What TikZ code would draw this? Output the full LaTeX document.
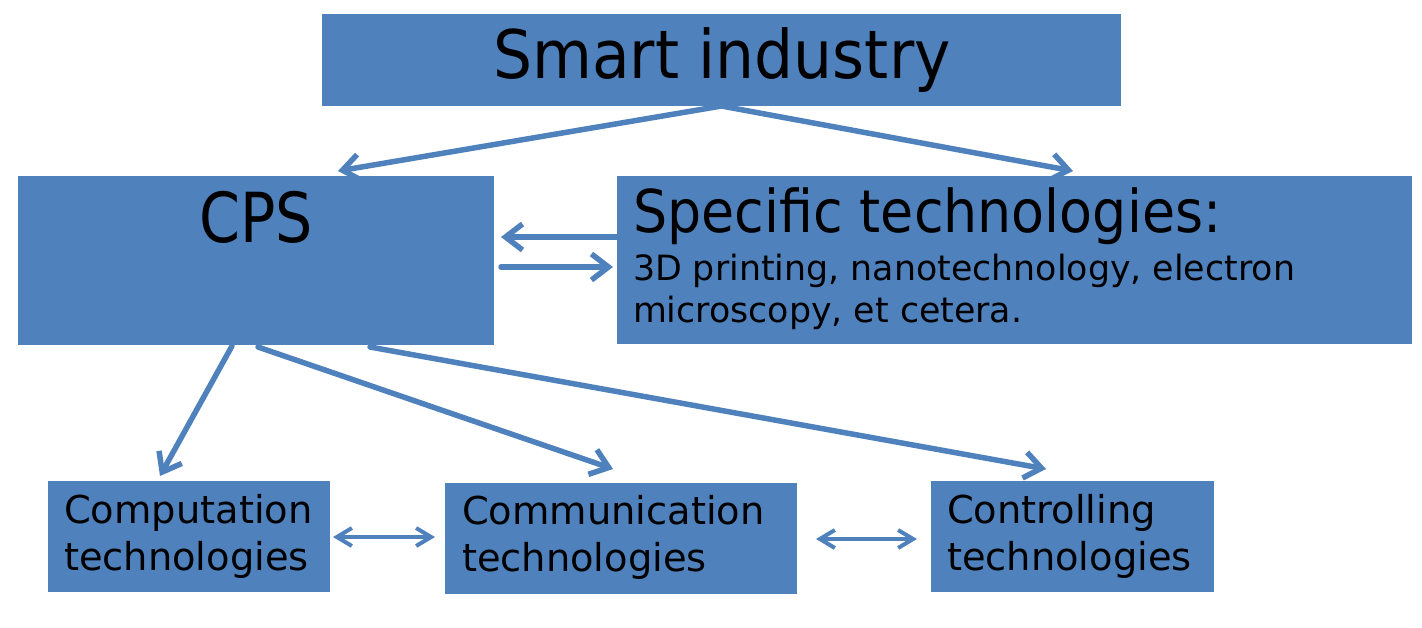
\documentclass[tikz,border=0pt]{standalone}
\usepackage{fontspec}
\setmainfont{DejaVu Sans}
\usetikzlibrary{arrows.meta,calc}
\definecolor{office}{HTML}{4F81BD}

\begin{document}
\begin{tikzpicture}[x=1pt,y=-1pt,
  box/.style={rectangle, fill=office, draw=none, inner sep=0pt, outer sep=0pt},
  lbl/.style={inner sep=0pt, outer sep=0pt, text=black},
  tip/.tip={Straight Barb[length=17pt,width=26pt]},
  smalltip/.tip={Straight Barb[length=15pt,width=18pt]},
  link/.style={draw=office, line width=5.5pt, line cap=round, line join=round, -tip},
  twoway/.style={draw=office, line width=4pt, line cap=round, line join=round, smalltip-smalltip},
  big/.style={lbl, font=\fontsize{67}{80}\selectfont},
  mid/.style={lbl, font=\fontsize{59}{70}\selectfont},
  small/.style={lbl, font=\fontsize{34.8}{42}\selectfont},
  low/.style={lbl, font=\fontsize{38.4}{47}\selectfont}]

  % canvas
  \useasboundingbox (0,0) rectangle (1422,627);

  % boxes
  \node[box, minimum width=799pt, minimum height=92pt]  (smart) at (721.5,60)   {};
  \node[box, minimum width=476pt, minimum height=169pt] (cps)   at (256,260.5)  {};
  \node[box, minimum width=795pt, minimum height=168pt] (spec)  at (1014.5,260) {};
  \node[box, minimum width=282pt, minimum height=111pt] (comp)  at (189,536.5)  {};
  \node[box, minimum width=352pt, minimum height=111pt] (comm)  at (621,538.5)  {};
  \node[box, minimum width=283pt, minimum height=111pt] (ctrl)  at (1072.5,536.5) {};

  % labels
  \node[big, anchor=base] (smartT) at (722,78) {\scalebox{0.918}[1]{Smart industry}};
  \node[lbl, anchor=base, font=\fontsize{69}{80}\selectfont] (cpsT) at (256,242) {\scalebox{0.85}[1]{CPS}};
  \node[mid, anchor=base west] (specT) at (633,232) {\scalebox{0.913}[1]{Specific technologies:}};
  \node[small, anchor=base west] (specA) at (633,280) {3D printing, nanotechnology, electron};
  \node[small, anchor=base west] (specB) at (633,322) {microscopy, et cetera.};
  \node[low, anchor=base west] (compA) at (64,523)  {Computation};
  \node[low, anchor=base west] (compB) at (64,570)  {technologies};
  \node[low, anchor=base west] (commA) at (462,524) {Communication};
  \node[low, anchor=base west] (commB) at (462,571) {technologies};
  \node[low, anchor=base west] (ctrlA) at (947,523) {Controlling};
  \node[low, anchor=base west] (ctrlB) at (947,570) {technologies};

  % connector ends
  \coordinate (cpsIn)   at (338,171);
  \coordinate (specIn)  at (1073,171);
  \coordinate (specOut) at (617,237);
  \coordinate (cpsBack) at (501,237);
  \coordinate (cpsOut)  at (501,267);
  \coordinate (specBack) at (613,267);
  \coordinate (cpsS1) at (232,346);
  \coordinate (cpsS2) at (258,347);
  \coordinate (cpsS3) at (370,347);
  \coordinate (compIn) at (160,476);
  \coordinate (commIn) at (613,469);
  \coordinate (ctrlIn) at (1046,469);
  \coordinate (compR) at (333,537);
  \coordinate (commL) at (435,537);
  \coordinate (commR) at (816,539);
  \coordinate (ctrlL) at (917,539);

  % connectors
  \draw[link] (smart.south) -- (cpsIn);
  \draw[link] (smart.south) -- (specIn);
  \draw[link] (specOut) -- (cpsBack);
  \draw[link] (cpsOut) -- (specBack);
  \draw[link] (cpsS1) -- (compIn);
  \draw[link] (cpsS2) -- (commIn);
  \draw[link] (cpsS3) -- (ctrlIn);
  \draw[twoway] (compR) -- (commL);
  \draw[twoway] (commR) -- (ctrlL);
\end{tikzpicture}
\end{document}
